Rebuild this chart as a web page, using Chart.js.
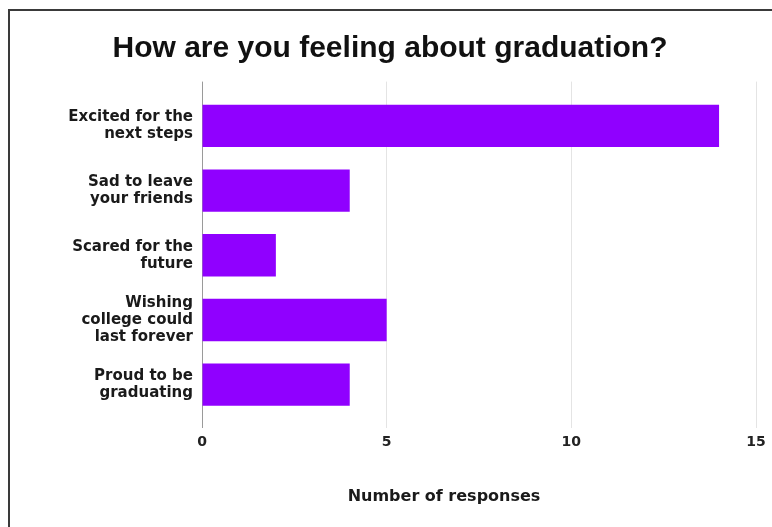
<!DOCTYPE html>
<html>
<head>
<meta charset="utf-8">
<script src="https://cdn.jsdelivr.net/npm/chart.js@4"></script>
<style>
  html, body { margin: 0; padding: 0; background: #ffffff; overflow: hidden; width: 772px; height: 527px; }
  #frame { position: absolute; left: 8px; top: 9px; width: 900px; height: 700px; border: 2px solid #3a3a3a; box-sizing: border-box; }
  #wrap { position: absolute; left: 0; top: 0; width: 772px; height: 527px; }
</style>
</head>
<body>
<div id="frame"></div>
<div id="wrap"><canvas id="c" width="772" height="527"></canvas></div>
<script>
const chartTitle = 'How are you feeling about graduation?';
const xAxisTitle = 'Number of responses';
const categories = [
  ['Excited for the', 'next steps'],
  ['Sad to leave', 'your friends'],
  ['Scared for the', 'future'],
  ['Wishing', 'college could', 'last forever'],
  ['Proud to be', 'graduating']
];
const responses = [14, 4, 2, 5, 4];
const xMin = 0, xMax = 15, xStep = 5;

const labelFont = 'DejaVu Sans';

const gridColor = (ctx) => (ctx.tick && ctx.tick.value === 0) ? '#9a9a9a' : '#e4e4e4';

const axisTitlePlugin = {
  id: 'axisTitleOffset',
  afterDraw(chart) {
    const ctx = chart.ctx;
    ctx.save();
    ctx.font = 'bold 16px "' + labelFont + '"';
    ctx.fillStyle = '#1a1a1a';
    ctx.textAlign = 'center';
    ctx.textBaseline = 'middle';
    ctx.fillText(xAxisTitle, 444, 497);
    ctx.restore();
  }
};

new Chart(document.getElementById('c'), {
  type: 'bar',
  data: {
    labels: categories,
    datasets: [{
      data: responses,
      backgroundColor: '#9000ff',
      borderWidth: 0,
      categoryPercentage: 1,
      barPercentage: 0.655
    }]
  },
  options: {
    indexAxis: 'y',
    responsive: false,
    animation: false,
    devicePixelRatio: 1,
    layout: { padding: { top: 0, left: 24, right: 16, bottom: 70.2 } },
    plugins: {
      legend: { display: false },
      tooltip: { enabled: false },
      title: {
        display: true,
        text: chartTitle,
        color: '#111111',
        font: { family: 'Liberation Sans', size: 30, weight: 'bold', lineHeight: 1.2 },
        padding: { top: 31, bottom: 14.6 }
      }
    },
    scales: {
      x: {
        type: 'linear',
        position: 'bottom',
        min: xMin, max: xMax,
        border: { display: false },
        grid: { color: gridColor, lineWidth: 1, drawTicks: true, tickLength: 11 },
        ticks: { stepSize: xStep, padding: 6, color: '#222222', font: { family: labelFont, size: 14, weight: 'bold', lineHeight: 1.2 } }
      },
      x2: {
        type: 'linear',
        position: 'top',
        min: xMin, max: xMax,
        border: { display: false },
        grid: { color: gridColor, lineWidth: 1, drawOnChartArea: false, drawTicks: true, tickLength: 12 },
        ticks: { stepSize: xStep, display: false }
      },
      y: {
        type: 'category',
        border: { display: false },
        grid: { display: false, drawTicks: false },
        ticks: { padding: 9, color: '#1a1a1a', font: { family: labelFont, size: 15, weight: 'bold', lineHeight: 1.14 } },
        afterFit(scale) { scale.width = 178; }
      }
    }
  },
  plugins: [axisTitlePlugin]
});
</script>
</body>
</html>
